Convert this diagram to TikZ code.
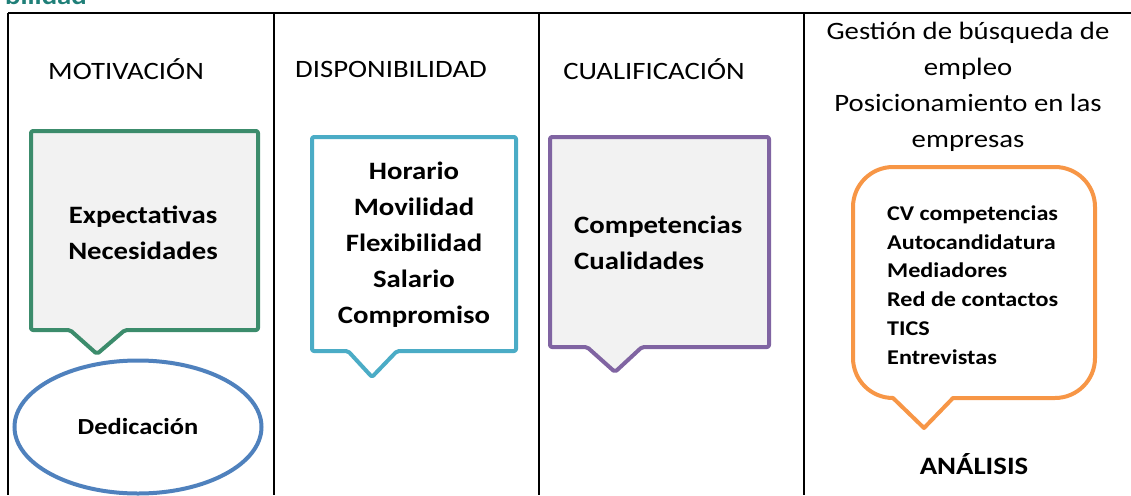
\documentclass[tikz,border=0pt]{standalone}
\usepackage{fontspec}
\setmainfont{Carlito}[FakeStretch=1.15]
\usepackage{tikz}
\usetikzlibrary{shapes.geometric}
\definecolor{tealhead}{RGB}{31,127,120}
\definecolor{motivgreen}{RGB}{60,140,108}
\definecolor{dediblue}{RGB}{79,129,189}
\definecolor{dispcyan}{RGB}{75,172,198}
\definecolor{cualpurple}{RGB}{128,100,162}
\definecolor{gestorange}{RGB}{247,150,70}
\definecolor{calloutgray}{RGB}{242,242,242}

\begin{document}
\begin{tikzpicture}[
  x=1pt,y=-1pt,
  grid/.style={line width=2.5pt,draw=black},
  head/.style={inner sep=0pt,align=center,font=\fontsize{25}{36}\selectfont},
  label/.style={inner sep=0pt,align=center,font=\fontsize{25}{36}\selectfont\bfseries},
  callout/.style={line width=4pt,line join=round,rounded corners=2pt}
]
  \useasboundingbox (0,0) rectangle (1131,495);

  % cut-off title above the table
  \node[anchor=base east,inner sep=0pt,text=tealhead,font=\fontsize{25}{30}\selectfont\bfseries] (title) at (87,5) {bilidad};

  % table
  \draw[grid] (8,13) -- (1131,13);
  \foreach \x in {8,274,539,804}
    \draw[grid] (\x,13) -- (\x,495);

  % column heads
  \node[head] (motiv) at (126,69) {MOTIVACIÓN};
  \node[head] (disp) at (391,69) {DISPONIBILIDAD};
  \node[head] (cualif) at (654,69) {CUALIFICACIÓN};
  \node[head] (gestion) at (968,87) {Gestión de búsqueda de\\empleo\\Posicionamiento en las\\empresas};

  % callouts
  \draw[callout,draw=motivgreen,fill=calloutgray] (31,131) -- (258,131) -- (258,330) -- (125,330) -- (97,354) -- (70,330) -- (31,330) -- cycle;
  \draw[callout,draw=dispcyan,fill=white] (312,137) -- (516,137) -- (516,351) -- (397,351) -- (372,377) -- (348,351) -- (312,351) -- cycle;
  \draw[callout,draw=cualpurple,fill=calloutgray] (550,137) -- (769,137) -- (769,347) -- (642,347) -- (615,372) -- (587,347) -- (550,347) -- cycle;
  \draw[line width=4pt,line join=round,draw=gestorange,fill=white,rounded corners=40pt] (953,398) -- (1095,398) -- (1095,167) -- (853,167) -- (853,398) [sharp corners] -- (893,398) -- (924,428) -- cycle;

  \node[label] (expect) at (143,233) {Expectativas\\Necesidades};
  \node[ellipse,draw=dediblue,line width=4pt,fill=white,minimum width=247pt,minimum height=133pt,inner sep=0pt,
        font=\fontsize{23}{28}\selectfont\bfseries] (dedic) at (138,427) {\raisebox{-6pt}{Dedicación}};
  \node[label] (horario) at (414,245) {Horario\\Movilidad\\Flexibilidad\\Salario\\Compromiso};
  \node[label,anchor=west,align=left] (compet) at (574,243) {Competencias\\Cualidades};
  \node[label,anchor=west,align=left,font=\fontsize{21}{28.7}\selectfont\bfseries] (cv) at (887,285) {CV competencias\\Autocandidatura\\Mediadores\\Red de contactos\\TICS\\Entrevistas};
  \node[label] (analisis) at (974,464) {ANÁLISIS};
\end{tikzpicture}
\end{document}
